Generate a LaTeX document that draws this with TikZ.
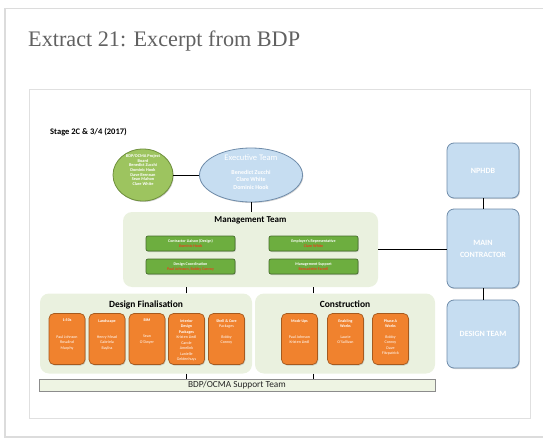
\documentclass[tikz,border=0pt]{standalone}
\usepackage{fontspec}
\setmainfont{Carlito}
\newfontfamily\headfont{Liberation Serif}
\usetikzlibrary{shapes.geometric, shadows}

\definecolor{cardline}{HTML}{DCDCDC}
\definecolor{paneltint}{HTML}{EAF1DF}
\definecolor{boardfill}{HTML}{9DC45F}
\definecolor{boardline}{HTML}{6E8F3C}
\definecolor{bluefill}{HTML}{C6DDF1}
\definecolor{blueline}{HTML}{6F8CAA}
\definecolor{rolefill}{HTML}{6DAE3F}
\definecolor{roleline}{HTML}{466E2C}
\definecolor{rolename}{HTML}{E8401C}
\definecolor{taskfill}{HTML}{F0822E}
\definecolor{taskline}{HTML}{A65A1E}
\definecolor{barfill}{HTML}{EEF4E3}

\tikzstyle{link} = [line width=1pt, black]
\tikzstyle{boxshadow} = [drop shadow={shadow xshift=0.8pt, shadow yshift=-1pt, opacity=0.35}]
\tikzstyle{panel} = [fill=paneltint, rounded corners=9pt, inner sep=0pt]
\tikzstyle{paneltitle} = [anchor=north, inner sep=0pt, font=\fontsize{9.5}{11}\selectfont\bfseries]
\tikzstyle{rolebox} = [draw=roleline, fill=rolefill, rounded corners=2pt, line width=0.7pt, minimum width=89pt, minimum height=15pt, inner sep=0pt, align=center, text=white, font=\fontsize{4}{5}\selectfont\bfseries, boxshadow]
\tikzstyle{taskbox} = [draw=taskline, fill=taskfill, rounded corners=5pt, line width=0.7pt, minimum width=36pt, minimum height=51pt, inner sep=0pt, boxshadow]
\tikzstyle{tasktext} = [anchor=north, align=center, text=white, font=\fontsize{4}{5.5}\selectfont, inner sep=0pt]
\tikzstyle{sidebox} = [draw=blueline, fill=bluefill, rounded corners=7pt, line width=0.8pt, minimum width=72pt, inner sep=0pt, text=white, align=center, font=\fontsize{8}{12}\selectfont\bfseries, boxshadow]

\begin{document}
\begin{tikzpicture}[x=1pt, y=-1pt]
\useasboundingbox (0,0) rectangle (543,441);

% card and title
\draw[cardline, line width=1.5pt] (5,8.5) rectangle (548,437);
\node[anchor=base west, inner sep=0pt, text=black!62, font=\headfont\fontsize{22.2}{25}\selectfont] (title) at (28,47) {Extract 21: Excerpt from BDP};
\draw[black!12, line width=1pt] (29,90) rectangle (530,418);
\node[anchor=base west, inner sep=0pt, font=\fontsize{8.5}{10}\selectfont\bfseries] (stage) at (50,135) {Stage 2C \& 3/4 (2017)};

% top ellipses
\node[ellipse, draw=boardline, fill=boardfill, line width=0.8pt, minimum width=60pt, minimum height=52pt, inner sep=0pt, boxshadow] (board) at (143,175) {};
\node[align=center, inner sep=0pt, text=white, font=\fontsize{4.3}{4.6}\selectfont\bfseries] (boardtext) at (143,170) {BDP/OCMA Project\\Board\\Benedict Zucchi\\Dominic Hook\\Dave Brennan\\Sean Mahon\\Clare White};
\node[ellipse, draw=blueline, fill=bluefill, line width=0.8pt, minimum width=103pt, minimum height=54pt, inner sep=0pt, boxshadow] (exec) at (251,175) {};
\node[inner sep=0pt, text=white, font=\fontsize{8.5}{10}\selectfont] (exechead) at (251,157.5) {Executive Team};
\node[align=center, inner sep=0pt, text=white, font=\fontsize{6}{7.5}\selectfont\bfseries] (exectext) at (251,179.5) {Benedict Zucchi\\Clare White\\Dominic Hook};

% management team
\node[panel, minimum width=255pt, minimum height=75pt] (mgmt) at (250.5,249.5) {};
\node[paneltitle, font=\fontsize{9}{11}\selectfont\bfseries] (mgmthead) at ([yshift=-5pt]mgmt.north) {Management Team};
\node[rolebox] (liaison) at (190.5,243.5) {Contractor Liaison (Design)\\\textcolor{rolename}{Dominic Hook}};
\node[rolebox] (employer) at (313.5,243.5) {Employer's Representative\\\textcolor{rolename}{Clare White}};
\node[rolebox] (coord) at (190.5,266.5) {Design Coordination\\\textcolor{rolename}{Paul Johnson, Bobby Conroy}};
\node[rolebox] (support) at (313.5,266.5) {Management Support\\\textcolor{rolename}{Bernadette Farrell}};

% design finalisation and construction
\node[panel, minimum width=212pt, minimum height=80pt] (fin) at (146,333.5) {};
\node[paneltitle] (finhead) at ([yshift=-7pt]fin.north) {Design Finalisation};
\node[panel, minimum width=180pt, minimum height=80pt] (cons) at (345,333.5) {};
\node[paneltitle] (conshead) at ([yshift=-7pt]cons.north) {Construction};

\foreach \nm/\x/\hd/\ppl in {
  fina/67/{\textbf{1:50s}}/{Paul Johnson\\Rosalind\\Murphy},
  finb/107/{\textbf{Landscape}}/{Henry Mead\\Gabriela\\Bayliss},
  finc/147/{\textbf{BIM}}/{Sean\\O'Dwyer},
  find/186.5/{\textbf{Interior}\\\textbf{Design}\\\textbf{Packages}\\Kristen Liedl\\Carole\\Amelink\\Lanielle\\Geldenhuys}/{},
  fine/226.5/{\textbf{Shell \& Core}\\Packages}/{Bobby\\Conroy},
  consa/299.5/{\textbf{Mock-Ups}}/{Paul Johnson\\Kristen Liedl},
  consb/345.5/{\textbf{Enabling}\\\textbf{Works}}/{Laurie\\O'Sullivan},
  consc/390.5/{\textbf{Phase A}\\\textbf{Works}}/{Bobby\\Conroy\\Dave\\Fitzpatrick}}
{
\node[taskbox] (\nm) at (\x,339) {};
\node[tasktext] (\nm head) at ([yshift=-6pt]\nm.north) {\hd};
\node[tasktext] (\nm names) at ([yshift=-22pt]\nm.north) {\ppl};
}

\node[draw=black!45, fill=barfill, line width=0.8pt, minimum width=396pt, minimum height=12pt, inner sep=0pt, text=black!85, font=\fontsize{9.3}{10}\selectfont, boxshadow] (team) at (237,385) {BDP/OCMA Support Team};

% right column
\node[sidebox, minimum height=55pt] (nphdb) at (483,170.5) {NPHDB};
\node[sidebox, minimum height=79pt] (main) at (483,248.5) {MAIN\\CONTRACTOR};
\node[sidebox, minimum height=68pt] (dteam) at (483,334) {DESIGN TEAM};

% connectors
\draw[link] (board.east) -- (exec.west);
\draw[link] (exec.south) -- (exec.south |- mgmt.north);
\draw[link] (mgmt.east) -- (mgmt.east -| main.west);
\draw[link] (nphdb.south) -- (main.north);
\draw[link] (main.south) -- (dteam.north);
\draw[link] ([xshift=40pt]fin.north) -- ([xshift=40pt]fin.north |- mgmt.south);
\draw[link] ([xshift=-32pt]cons.north) -- ([xshift=-32pt]cons.north |- mgmt.south);
\draw[link] ([xshift=40pt]fin.south) -- ([xshift=40pt]fin.south |- team.north);
\draw[link] ([xshift=-32pt]cons.south) -- ([xshift=-32pt]cons.south |- team.north);
\end{tikzpicture}
\end{document}
